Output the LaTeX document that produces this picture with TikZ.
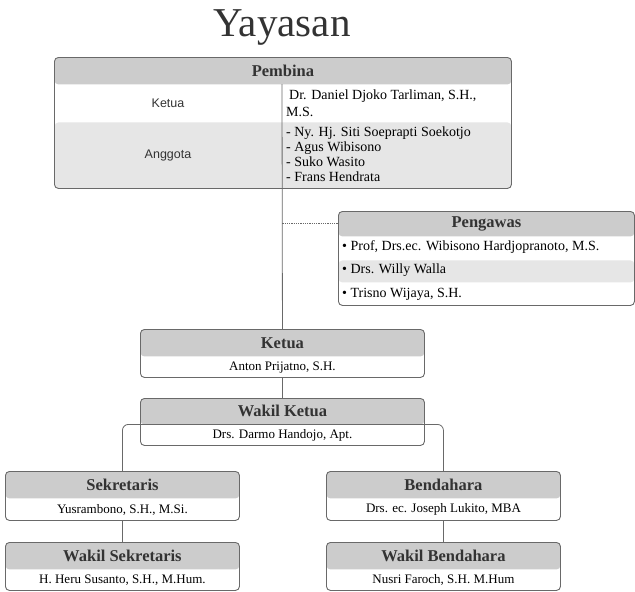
\documentclass[tikz,border=0pt]{standalone}
\usepackage{fontspec}
\setmainfont{Liberation Serif}
\setsansfont{Liberation Sans}
\definecolor{hdgray}{RGB}{204,204,204}
\definecolor{rowgray}{RGB}{230,230,230}
\definecolor{linegray}{RGB}{105,105,105}
\definecolor{txtgray}{RGB}{51,51,51}
\usetikzlibrary{positioning,calc}

\begin{document}
\begin{tikzpicture}[x=1pt,y=-1pt,
        orgbox/.style={draw=linegray,line width=0.9pt,rounded corners=4pt,fill=white,inner sep=0pt,anchor=north west},
        hdband/.style={path picture={\fill[hdgray] (path picture bounding box.north west) rectangle ([yshift=-#1]path picture bounding box.north east);}},
        hdtext/.style={font=\bfseries\fontsize{16.5}{19}\selectfont,text=txtgray,inner sep=0pt},
        bdtext/.style={font=\fontsize{13}{15}\selectfont,inner sep=0pt},
        listtext/.style={font=\fontsize{14}{15}\selectfont,inner sep=0pt,align=left,anchor=west},
        conn/.style={draw=linegray,line width=0.8pt}
        ]
        \useasboundingbox (0,0) rectangle (635,592);

        % the title
        \node[font=\fontsize{41}{45}\selectfont,text=txtgray,anchor=base,inner sep=0pt] (title) at (282,36) {Yayasan};

        % the Pembina table
        \node[orgbox,minimum width=457pt,minimum height=131pt,
              path picture={\fill[hdgray] (path picture bounding box.north west) rectangle ([yshift=-27pt]path picture bounding box.north east);
                            \fill[rowgray] ([yshift=-65pt]path picture bounding box.north west) rectangle (path picture bounding box.south east);}]
              (pembina) at (54,57) {};
        \node[hdtext,minimum width=457pt,minimum height=27pt,below=0pt of pembina.north] (pembina-hd) {Pembina};
        \coordinate (pdiv) at (282,84);
        \node[font=\sffamily\fontsize{12.5}{15}\selectfont,text=txtgray] (pb-ketua-l) at (168,103) {Ketua};
        \node[listtext,font=\fontsize{14}{17}\selectfont] (pb-ketua-r) at (286,103) {\hspace{3pt}Dr. Daniel Djoko Tarliman, S.H.,\\M.S.};
        \node[font=\sffamily\fontsize{12.5}{15}\selectfont,text=txtgray] (pb-anggota-l) at (168,155) {Anggota};
        \node[listtext] (pb-anggota-r) at (286,154) {- Ny. Hj. Siti Soeprapti Soekotjo\\- Agus Wibisono\\- Suko Wasito\\- Frans Hendrata};

        % the Pengawas list
        \node[orgbox,minimum width=296pt,minimum height=94pt,
              path picture={\fill[hdgray] (path picture bounding box.north west) rectangle ([yshift=-25pt]path picture bounding box.north east);
                            \fill[rowgray] ([yshift=-49pt]path picture bounding box.north west) rectangle ([yshift=-71pt]path picture bounding box.north east);}]
              (pengawas) at (338,211) {};
        \node[hdtext,minimum width=296pt,minimum height=25pt,below=0pt of pengawas.north] (pengawas-hd) {Pengawas};
        \node[listtext] (pw-1) at (342,247) {• Prof, Drs.ec. Wibisono Hardjopranoto, M.S.};
        \node[listtext] (pw-2) at (342,270) {• Drs. Willy Walla};
        \node[listtext] (pw-3) at (342,294) {• Trisno Wijaya, S.H.};

        % Ketua and Wakil Ketua
        \node[orgbox,hdband=27pt,minimum width=284pt,minimum height=48pt] (ketua) at (140,329) {};
        \node[hdtext,minimum width=284pt,minimum height=27pt,below=0pt of ketua.north] (ketua-hd) {Ketua};
        \node[bdtext,minimum height=21pt,below=0pt of ketua-hd] (ketua-bd) {Anton Prijatno, S.H.};

        \node[orgbox,hdband=26pt,minimum width=284pt,minimum height=47pt] (wakilketua) at (140,398) {};
        \node[hdtext,minimum width=284pt,minimum height=26pt,below=0pt of wakilketua.north] (wakilketua-hd) {Wakil Ketua};
        \node[bdtext,minimum height=21pt,below=0pt of wakilketua-hd] (wakilketua-bd) {Drs. Darmo Handojo, Apt.};

        % Sekretaris side
        \node[orgbox,hdband=27pt,minimum width=234pt,minimum height=49pt] (sekretaris) at (5,471) {};
        \node[hdtext,minimum width=234pt,minimum height=27pt,below=0pt of sekretaris.north] (sekretaris-hd) {Sekretaris};
        \node[bdtext,minimum height=22pt,below=0pt of sekretaris-hd] (sekretaris-bd) {Yusrambono, S.H., M.Si.};

        \node[orgbox,hdband=27pt,minimum width=234pt,minimum height=48pt] (wakilsekretaris) at (5,542) {};
        \node[hdtext,minimum width=234pt,minimum height=27pt,below=0pt of wakilsekretaris.north] (wakilsekretaris-hd) {Wakil Sekretaris};
        \node[bdtext,minimum height=21pt,below=0pt of wakilsekretaris-hd] (wakilsekretaris-bd) {H. Heru Susanto, S.H., M.Hum.};

        % Bendahara side
        \node[orgbox,hdband=27pt,minimum width=234pt,minimum height=49pt] (bendahara) at (326,471) {};
        \node[hdtext,minimum width=234pt,minimum height=27pt,below=0pt of bendahara.north] (bendahara-hd) {Bendahara};
        \node[bdtext,minimum height=22pt,below=0pt of bendahara-hd] (bendahara-bd) {Drs. ec. Joseph Lukito, MBA};

        \node[orgbox,hdband=27pt,minimum width=234pt,minimum height=48pt] (wakilbendahara) at (326,542) {};
        \node[hdtext,minimum width=234pt,minimum height=27pt,below=0pt of wakilbendahara.north] (wakilbendahara-hd) {Wakil Bendahara};
        \node[bdtext,minimum height=21pt,below=0pt of wakilbendahara-hd] (wakilbendahara-bd) {Nusri Faroch, S.H. M.Hum};

        % the connectors
        \draw[conn] (pdiv) -- (ketua.north);
        \draw[conn,densely dotted] (pengawas-hd.west) -- (pengawas-hd.west -| pdiv);
        \draw[conn] (ketua.south) -- (wakilketua.north);
        \draw[conn,rounded corners=6pt] (sekretaris.north) |- (wakilketua-hd.south) -| (bendahara.north);
        \draw[conn] (sekretaris.south) -- (wakilsekretaris.north);
        \draw[conn] (bendahara.south) -- (wakilbendahara.north);
\end{tikzpicture}
\end{document}
